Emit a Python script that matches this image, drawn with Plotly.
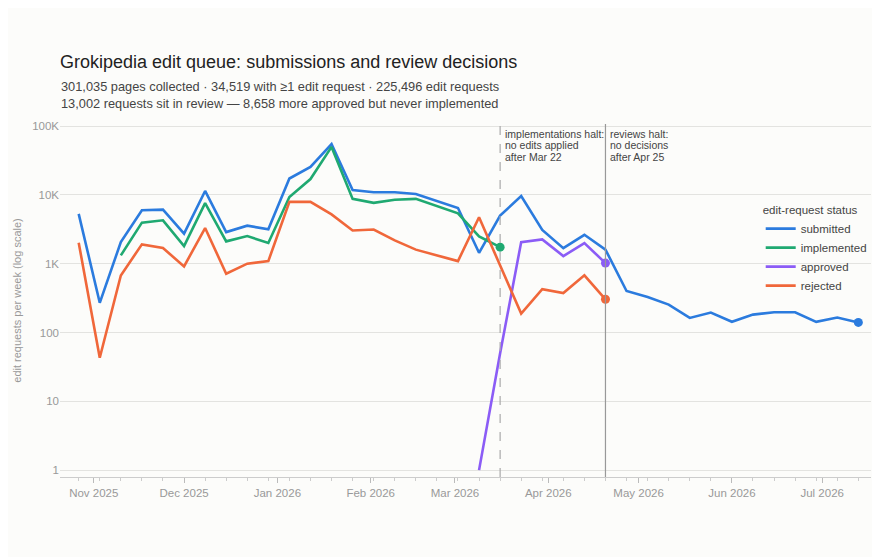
import plotly.graph_objects as go

# weekly buckets (week starting Monday)
weeks = [
    "2025-10-27", "2025-11-03", "2025-11-10", "2025-11-17", "2025-11-24",
    "2025-12-01", "2025-12-08", "2025-12-15", "2025-12-22", "2025-12-29",
    "2026-01-05", "2026-01-12", "2026-01-19", "2026-01-26", "2026-02-02",
    "2026-02-09", "2026-02-16", "2026-02-23", "2026-03-02", "2026-03-09",
    "2026-03-16", "2026-03-23", "2026-03-30", "2026-04-06", "2026-04-13",
    "2026-04-20", "2026-04-27", "2026-05-04", "2026-05-11", "2026-05-18",
    "2026-05-25", "2026-06-01", "2026-06-08", "2026-06-15", "2026-06-22",
    "2026-06-29", "2026-07-06", "2026-07-13",
]

submitted = [
    5300, 270, 2060, 5970, 6100, 2730, 11400, 2880, 3570, 3160,
    17300, 25500, 54600, 11800, 10900, 10900, 10300, 8200, 6450, 1440,
    5000, 9600, 3100, 1680, 2630, 1600, 401, 328, 254, 163,
    195, 143, 182, 197, 197, 143, 165, 140,
]
implemented = [
    None, None, 1320, 3950, 4270, 1800, 7600, 2110, 2520, 2000,
    9300, 17000, 49800, 8750, 7650, 8500, 8750, 6900, 5400, 2490,
    1740,
]
approved = [None] * 19 + [1, 50, 2060, 2250, 1290, 1990, 1020]
rejected = [
    2020, 43, 675, 1910, 1690, 913, 3300, 715, 1000, 1090,
    7900, 7900, 5200, 3040, 3140, 2180, 1600, 1320, 1090, 4730,
    945, 188, 425, 375, 677, 304,
]

series = [
    ("submitted", submitted, "#2b7bde"),
    ("implemented", implemented, "#1fa971"),
    ("approved", approved, "#8b5cf6"),
    ("rejected", rejected, "#f0673a"),
]

impl_halt = "2026-03-16"
review_halt = "2026-04-20"

y_ticks = [1, 10, 100, 1000, 10000, 100000]
y_labels = ["1", "10", "100", "1K", "10K", "100K"]

bg = "#fcfcfa"
grey = "#999999"

# page body keeps an 8px margin, so the figure is 8px smaller than the window
W, H = 872, 549

fig = go.Figure()

for name, vals, color in series:
    x = weeks[:len(vals)]
    fig.add_trace(go.Scatter(
        x=x, y=vals, mode="lines", name=name,
        line=dict(color=color, width=2.6),
        connectgaps=False,
    ))
    # end-of-series dot
    fig.add_trace(go.Scatter(
        x=[x[-1]], y=[vals[-1]], mode="markers", showlegend=False,
        marker=dict(color=color, size=9), hoverinfo="skip",
    ))

fig.add_vline(x=impl_halt, line=dict(color="#aaaaaa", width=1.2, dash="dash"))
fig.add_vline(x=review_halt, line=dict(color="#999999", width=1.2))

notes = [
    (impl_halt, ["implementations halt:", "no edits applied", "after Mar 22"]),
    (review_halt, ["reviews halt:", "no decisions", "after Apr 25"]),
]
for xpos, lines in notes:
    for i, txt in enumerate(lines):
        fig.add_annotation(
            x=xpos, xref="x", y=1, yref="paper",
            xanchor="left", yanchor="middle",
            xshift=3, yshift=-10 - 11.4 * i,
            text=txt, showarrow=False,
            font=dict(size=10.5, color="#444444"),
        )

fig.add_annotation(
    x=0, xref="paper", y=1.081, yref="paper",
    xanchor="left", yanchor="middle", align="left", xshift=-1,
    text="301,035 pages collected · 34,519 with ≥1 edit request · 225,496 edit requests"
         "<br>13,002 requests sit in review — 8,658 more approved but never implemented",
    showarrow=False, font=dict(size=12.8, color="#444444"),
)

fig.update_layout(
    width=W, height=H,
    margin=dict(l=47, r=8, t=116, b=80),
    paper_bgcolor=bg, plot_bgcolor=bg,
    font=dict(family="Liberation Sans, Arial, sans-serif", color="#444444"),
    title=dict(
        text="Grokipedia edit queue: submissions and review decisions",
        x=0, xref="paper", xanchor="left",
        y=1 - 54 / H, yref="container", yanchor="middle",
        font=dict(size=18, color="#222222"),
    ),
    legend=dict(
        title=dict(text="edit-request status", font=dict(size=11.5, color="#444444")),
        x=0.864, y=0.787, xanchor="left", yanchor="top",
        bgcolor="rgba(0,0,0,0)", font=dict(size=11.5, color="#444444"),
        itemwidth=30,
    ),
    showlegend=True,
)

fig.update_xaxes(
    type="date",
    range=["2025-10-20 19:00", "2026-07-17 05:00"],
    tick0="2025-11-01", dtick="M1", tickformat="%b %Y",
    ticks="outside", ticklen=5, tickcolor="#bbbbbb",
    tickfont=dict(size=11.5, color=grey),
    showgrid=False, zeroline=False,
    showline=True, linecolor="#cccccc", linewidth=1,
    minor=dict(ticks="outside", ticklen=3, tickcolor="#cccccc",
               tick0="2025-10-27", dtick=7 * 24 * 3600 * 1000, showgrid=False),
)
fig.update_yaxes(
    type="log", range=[-0.1, 5.03],
    tickvals=y_ticks, ticktext=y_labels,
    tickfont=dict(size=11.5, color=grey),
    showgrid=True, gridcolor="#e3e3e0", gridwidth=1,
    zeroline=False, showline=False,
    title=dict(text="edit requests per week (log scale)",
               font=dict(size=11, color=grey), standoff=8),
)

fig.write_html("out.html")
